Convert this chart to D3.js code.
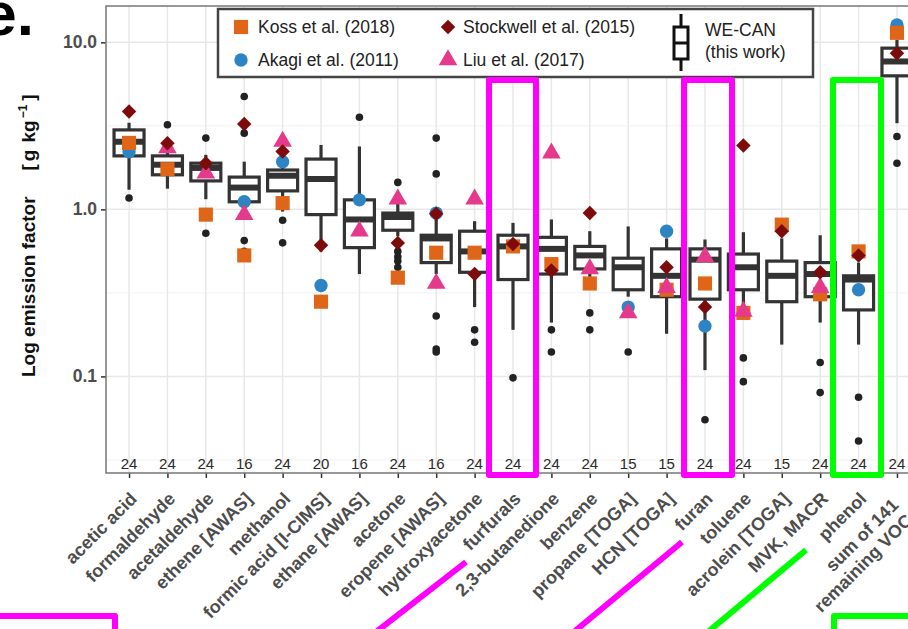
<!DOCTYPE html>
<html><head><meta charset="utf-8">
<script src="https://cdn.jsdelivr.net/npm/d3@7"></script>
<style>
html,body{margin:0;padding:0;background:#fff;}
svg{display:block;font-family:Arial,"Liberation Sans",sans-serif;}
</style></head>
<body><svg id="c" width="908" height="629"></svg>
<script>
const categories = [["acetic acid"],["formaldehyde"],["acetaldehyde"],["ethene [AWAS]"],["methanol"],["formic acid [I-CIMS]"],["ethane [AWAS]"],["acetone"],["eropene [AWAS]"],["hydroxyacetone"],["furfurals"],["2,3-butanedione"],["benzene"],["propane [TOGA]"],["HCN [TOGA]"],["furan"],["toluene"],["acrolein [TOGA]"],["MVK, MACR"],["phenol"],["sum of 141","remaining VOCs"]];
const counts = [24,24,24,16,24,20,16,24,16,24,24,24,24,15,15,24,24,15,24,24,24];
// WE-CAN box statistics
const whiskerLow  = [1.31,1.33,1.15,0.98,0.97,0.56,0.41,0.69,0.41,0.26,0.19,0.21,0.39,0.30,0.18,0.109,0.27,0.155,0.21,0.155,3.28];
const q1          = [2.09,1.61,1.48,1.11,1.29,0.93,0.59,0.75,0.48,0.42,0.38,0.41,0.44,0.33,0.30,0.29,0.33,0.28,0.30,0.25,6.30];
const medians     = [2.54,1.85,1.77,1.35,1.59,1.52,0.87,0.90,0.67,0.56,0.60,0.58,0.53,0.45,0.40,0.50,0.45,0.40,0.41,0.38,7.68];
const q3          = [2.99,2.09,1.89,1.56,1.72,2.00,1.14,0.95,0.70,0.74,0.70,0.68,0.60,0.51,0.58,0.58,0.54,0.49,0.48,0.40,9.23];
const whiskerHigh = [3.30,2.40,2.12,1.93,2.06,2.43,2.38,1.09,0.87,0.85,0.83,0.87,0.74,0.79,0.67,0.66,0.73,0.67,0.70,0.48,10.35];
const outliers = [[1.17],[3.21],[2.67,0.72],[4.74,2.86,0.65,0.56],[0.86,0.63],[],[3.56],[1.45,0.56,0.52,0.49,0.45],[2.67,1.63,0.23,0.146,0.14],[0.19,0.16],[0.098],[0.19,0.14],[0.24,0.19],[0.14],[],[0.055],[0.129,0.093],[],[0.121,0.080],[0.075,0.041],[2.73,1.89]];
// literature values
const koss      = [2.50,1.74,0.93,0.53,1.09,0.28,null,0.39,0.55,0.55,0.60,0.47,0.36,null,0.33,0.36,0.24,0.81,0.31,0.56,11.4];
const akagi     = [2.21,null,null,1.11,1.93,0.35,1.14,null,0.95,null,null,null,null,0.26,0.74,0.20,null,null,null,0.33,12.7];
const stockwell = [3.85,2.49,1.89,3.24,2.22,0.61,null,0.63,0.94,0.41,0.62,0.43,0.95,null,0.45,0.26,2.41,0.74,0.42,0.53,8.6];
const liu       = [null,2.33,1.65,0.93,2.55,null,0.74,1.15,0.36,1.15,null,2.17,0.44,0.24,0.34,0.52,0.245,null,0.34,null,null];
const yTicks = [0.1,1,10];
const yTickLabels = ["0.1","1.0","10.0"];
const yMinor = [Math.pow(10,-1.5),Math.pow(10,-0.5),Math.pow(10,0.5)];
const legendLabels = ["Koss et al. (2018)","Akagi et al. (2011)","Stockwell et al. (2015)","Liu et al. (2017)"];
const weCanLabel = ["WE-CAN","(this work)"];

const colors = {koss:"#DF6518", akagi:"#2C84C3", stockwell:"#7E0B0B", liu:"#E5398B"};
const svg = d3.select("#c");
const L=106, T=6, B=473, R=920;
const keys = categories.map((d,i)=>i);
const x = d3.scalePoint().domain(keys).range([L,R]).padding(0.6);
const y = d3.scaleLog().domain([0.0264,16.5]).range([B,T]);

// panel grid
const g = svg.append("g");
g.selectAll(".minor").data(yMinor).enter().append("line")
 .attr("x1",L).attr("x2",R).attr("y1",d=>y(d)).attr("y2",d=>y(d))
 .attr("stroke","#EDEDED").attr("stroke-width",0.8);
g.selectAll(".major").data(yTicks).enter().append("line")
 .attr("x1",L).attr("x2",R).attr("y1",d=>y(d)).attr("y2",d=>y(d))
 .attr("stroke","#E8E8E8").attr("stroke-width",1.5);
g.selectAll(".vg").data(keys).enter().append("line")
 .attr("x1",d=>x(d)).attr("x2",d=>x(d)).attr("y1",T).attr("y2",B)
 .attr("stroke","#E8E8E8").attr("stroke-width",1.5);

// axes
const yAxis = d3.axisLeft(y).tickValues(yTicks).tickFormat((d,i)=>yTickLabels[i]).tickSize(5).tickPadding(4);
const ya = svg.append("g").attr("transform",`translate(${L},0)`).call(yAxis);
ya.select(".domain").remove();
ya.selectAll("line").attr("stroke","#333").attr("stroke-width",1.5);
ya.selectAll("text").attr("font-size",17.5).attr("font-weight","bold").attr("fill","#4D4D4D").attr("font-family","Arial,'Liberation Sans',sans-serif");

const xAxis = d3.axisBottom(x).tickSize(5).tickFormat("");
const xa = svg.append("g").attr("transform",`translate(0,${B})`).call(xAxis);
xa.select(".domain").remove();
xa.selectAll("line").attr("stroke","#333").attr("stroke-width",1.5);

// border
svg.append("rect").attr("x",L).attr("y",T).attr("width",R-L).attr("height",B-T)
 .attr("fill","none").attr("stroke","#777").attr("stroke-width",1.5);

// x labels
const xl = svg.append("g");
categories.forEach((lines,i)=>{
  const t = xl.append("text")
    .attr("transform",`translate(${x(i)},491) rotate(-45)`)
    .attr("text-anchor","end").attr("font-size",18).attr("font-weight","bold").attr("fill","#4D4D4D");
  lines.forEach((ln,j)=>{
    t.append("tspan").attr("x", lines.length>1 && j===0 ? -9 : 0).attr("dy", j===0?"0.7em":"1.15em").text(ln);
  });
});

// counts
svg.append("g").selectAll("text").data(keys).enter().append("text")
 .attr("x",d=>x(d)).attr("y",469).attr("text-anchor","middle").attr("font-size",15).attr("fill","#2a2a2a")
 .text(d=>counts[d]);

// boxes
const bw = 30;
const bx = svg.append("g");
keys.forEach(i=>{
  const cx = x(i);
  bx.append("line").attr("x1",cx).attr("x2",cx).attr("y1",y(whiskerHigh[i])).attr("y2",y(q3[i])).attr("stroke","#333").attr("stroke-width",3.2);
  bx.append("line").attr("x1",cx).attr("x2",cx).attr("y1",y(q1[i])).attr("y2",y(whiskerLow[i])).attr("stroke","#333").attr("stroke-width",3.2);
  bx.append("rect").attr("x",cx-bw/2).attr("y",y(q3[i])).attr("width",bw).attr("height",y(q1[i])-y(q3[i]))
    .attr("fill","#fff").attr("stroke","#333").attr("stroke-width",3.2);
  bx.append("line").attr("x1",cx-bw/2).attr("x2",cx+bw/2).attr("y1",y(medians[i])).attr("y2",y(medians[i])).attr("stroke","#333").attr("stroke-width",6);
  outliers[i].forEach(v=>{
    bx.append("circle").attr("cx",cx).attr("cy",y(v)).attr("r",3.8).attr("fill","#222");
  });
});

// literature markers
const shapes = {
  akagi: d3.symbol().type(d3.symbolCircle).size(140),
  koss: d3.symbol().type(d3.symbolSquare).size(200),
  liu: d3.symbol().type(d3.symbolTriangle).size(150),
  stockwell: d3.symbol().type(d3.symbolSquare).size(105)
};
const series = [["akagi",akagi],["koss",koss],["liu",liu],["stockwell",stockwell]];
const mk = svg.append("g");
series.forEach(([k,arr])=>{
  arr.forEach((v,i)=>{
    if(v==null) return;
    mk.append("path").attr("d",shapes[k]())
      .attr("transform",`translate(${x(i)},${y(v)})${k==="stockwell"?" rotate(45)":""}`)
      .attr("fill",colors[k]);
  });
});

// legend
const lg = svg.append("g");
lg.append("rect").attr("x",218).attr("y",9).attr("width",595).attr("height",68).attr("fill","#fff").attr("stroke","#444").attr("stroke-width",2.5);
const legItems = [["koss",241,27,258,33],["akagi",241,60,258,66],["stockwell",448,27,463,33],["liu",448,60,463,66]];
legItems.forEach(([k,mx,my,tx,ty],i)=>{
  lg.append("path").attr("d",shapes[k]()).attr("transform",`translate(${mx},${my})${k==="stockwell"?" rotate(45)":""}`).attr("fill",colors[k]);
  lg.append("text").attr("x",tx).attr("y",ty).attr("font-size",17.5).attr("fill","#222").text(legendLabels[["koss","akagi","stockwell","liu"].indexOf(k)]);
});
lg.append("line").attr("x1",681).attr("x2",681).attr("y1",14).attr("y2",71).attr("stroke","#111").attr("stroke-width",3);
lg.append("rect").attr("x",674).attr("y",27).attr("width",14).attr("height",32).attr("fill","#fff").attr("stroke","#111").attr("stroke-width",3);
lg.append("line").attr("x1",674).attr("x2",688).attr("y1",43).attr("y2",43).attr("stroke","#111").attr("stroke-width",3);
weCanLabel.forEach((t,i)=>lg.append("text").attr("x",705).attr("y",36+i*22).attr("font-size",17.5).attr("fill","#222").text(t));

// y title
const yt = svg.append("text").attr("transform","translate(35,377) rotate(-90)").attr("font-size",19).attr("font-weight","bold").attr("fill","#111");
yt.append("tspan").text("Log emission factor");
yt.append("tspan").attr("dx",26).text("[");
yt.append("tspan").attr("dx",3).text("g");
yt.append("tspan").attr("dx",7).text("kg");
yt.append("tspan").attr("dx",2).attr("dy",-8).attr("font-size",12).text("−1");
yt.append("tspan").attr("dx",4).attr("dy",8).text("]");

// panel letter
svg.append("text").attr("x",34).attr("y",35).attr("text-anchor","end").attr("font-size",62).attr("font-weight","bold").attr("fill","#000").text("e.");

// annotation overlays
const an = svg.append("g").attr("fill","none").attr("stroke-width",6).attr("stroke-linejoin","round");
[[489,536,"#FF00FF"],[684,732,"#FF00FF"],[833,881,"#00FF00"]].forEach(([a,b,c])=>{
  an.append("rect").attr("x",a).attr("y",80).attr("width",b-a).attr("height",395).attr("stroke",c);
});
an.append("rect").attr("x",-20).attr("y",616).attr("width",135).attr("height",60).attr("stroke","#FF00FF");
an.append("rect").attr("x",834).attr("y",616).attr("width",120).attr("height",60).attr("stroke","#00FF00");
an.append("line").attr("x1",466).attr("y1",562).attr("x2",376).attr("y2",632).attr("stroke","#FF00FF");
an.append("line").attr("x1",682).attr("y1",542).attr("x2",575).attr("y2",631).attr("stroke","#FF00FF");
an.append("line").attr("x1",806).attr("y1",550).attr("x2",709).attr("y2",631).attr("stroke","#00FF00");
</script></body></html>
